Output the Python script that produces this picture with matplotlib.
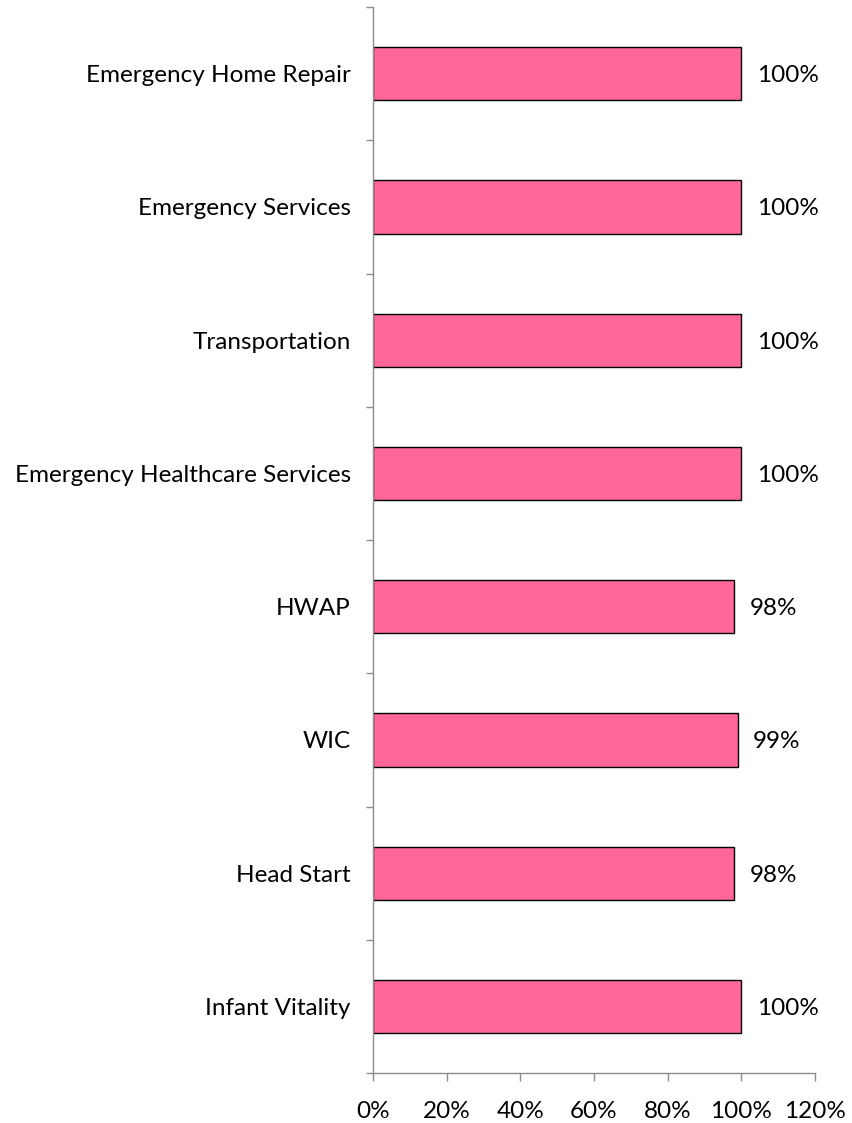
import matplotlib
matplotlib.use("Agg")
from matplotlib import pyplot as plt
from matplotlib.ticker import FixedLocator, PercentFormatter
import numpy as np

categories = ["Emergency Home Repair", "Emergency Services", "Transportation",
              "Emergency Healthcare Services", "HWAP", "WIC", "Head Start",
              "Infant Vitality"]
values = [100, 100, 100, 100, 98, 99, 98, 100]
value_labels = ["100%", "100%", "100%", "100%", "98%", "99%", "98%", "100%"]
x_ticks = [0, 20, 40, 60, 80, 100, 120]

plt.rcParams["font.family"] = ["Lato", "DejaVu Sans"]
AXIS_GRAY = "#8c8c8c"
FS = 17.5

fig = plt.figure(figsize=(8.53, 11.23), dpi=100)
ax = fig.add_axes([0.4373, 0.0445, 0.5182, 0.9492])

y = np.arange(len(categories))
ax.barh(y, values, height=0.40, color="#ff6699", edgecolor="black", linewidth=1.0)
for yi, v, lab in zip(y, values, value_labels):
    ax.annotate(lab, (v, yi), xytext=(11, 0), textcoords="offset points",
                ha="left", va="center_baseline", fontsize=FS)

ax.set_ylim(len(categories) - 0.5, -0.5)
ax.set_xlim(0, 120)
ax.set_yticks(y)
ax.set_yticklabels(categories, fontsize=FS)
ax.yaxis.set_minor_locator(FixedLocator(np.arange(-0.5, len(categories), 1.0)))
ax.tick_params(axis="y", which="major", length=0, pad=16)
ax.tick_params(axis="y", which="minor", length=5, color=AXIS_GRAY, width=1)
ax.set_xticks(x_ticks)
ax.xaxis.set_major_formatter(PercentFormatter(decimals=0))
ax.tick_params(axis="x", length=6, color=AXIS_GRAY, width=1, pad=14, labelsize=FS)

for side in ("top", "right"):
    ax.spines[side].set_visible(False)
for side in ("left", "bottom"):
    ax.spines[side].set_color(AXIS_GRAY)
    ax.spines[side].set_linewidth(1)

fig.savefig("out.png", dpi=100)
